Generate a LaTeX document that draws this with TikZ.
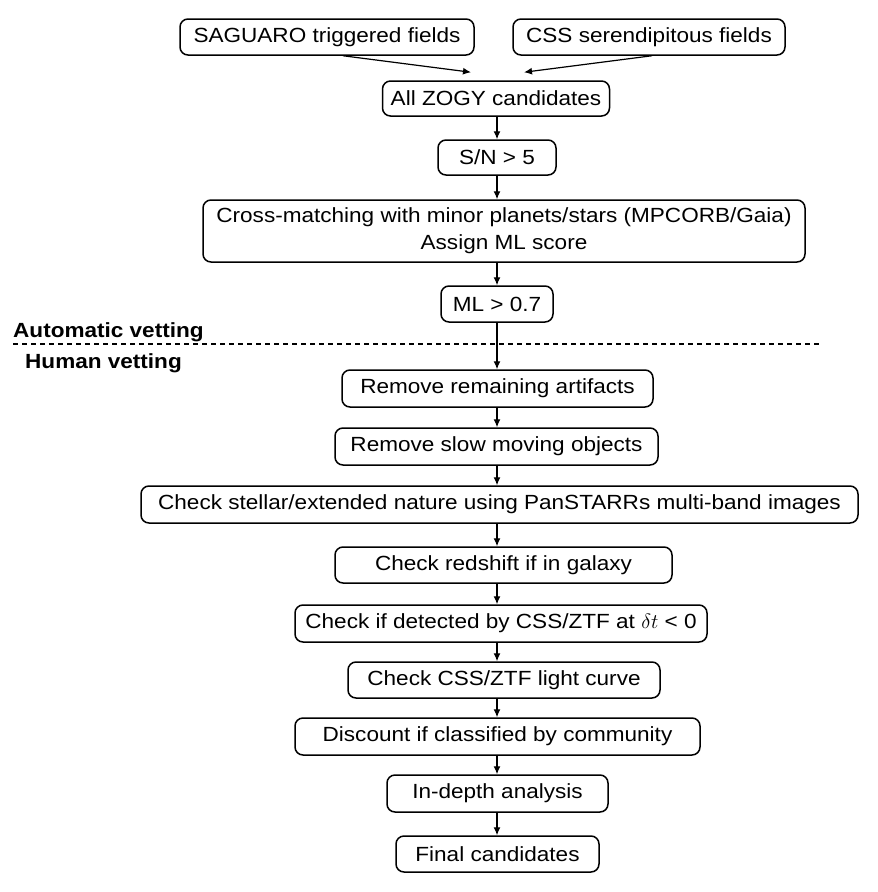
\documentclass[tikz,border=0pt]{standalone}
\usepackage{fontspec}
\setmainfont{Liberation Sans}[FakeStretch=1.1]
\usetikzlibrary{arrows.meta}
\begin{document}
\begin{tikzpicture}[x=1pt,y=-1pt,
  box/.style={draw, line width=1.5pt, rounded corners=8pt, inner sep=0pt,
    minimum height=36pt, align=center, font=\fontsize{20.5}{27}\selectfont},
  arr/.style={-{Latex[length=8pt,width=7pt]}, line width=1.2pt},
  lab/.style={anchor=base west, inner sep=0pt, font=\bfseries\fontsize{20.5}{24}\selectfont},
  sepline/.style={line width=2.2pt, dash pattern=on 5pt off 4pt}]
\useasboundingbox (0,0) rectangle (878,892);
\coordinate (spine) at (497,0);

\node[box, minimum width=294pt] (sag) at (327,37) {SAGUARO triggered fields};
\node[box, minimum width=272pt] (css) at (649,37) {CSS serendipitous fields};
\node[box, minimum width=227pt, minimum height=35pt] (zogy) at (496,98.5) {All ZOGY candidates};
\node[box, minimum width=118pt, minimum height=35pt] (sn) at (497,157.5) {S/N > 5};
\node[box, minimum width=602pt, minimum height=62pt] (cross) at (504,231)
  {Cross-matching with minor planets/stars (MPCORB/Gaia)\\Assign ML score};
\node[box, minimum width=112pt] (ml) at (497,304) {ML > 0.7};

\node[lab] (auto) at (13,337) {Automatic vetting};
\node[lab] (human) at (25,368) {Human vetting};
\coordinate (dl) at (13,344);
\coordinate (dr) at (820,344);
\draw[sepline] (dl) -- (dr);

\node[box, minimum width=311pt, minimum height=37pt] (rra) at (497.5,388.5) {Remove remaining artifacts};
\node[box, minimum width=323pt, minimum height=37pt] (rso) at (496.5,446.5) {Remove slow moving objects};
\node[box, minimum width=717pt, minimum height=37pt] (chk) at (499.5,504.5) {Check stellar/extended nature using PanSTARRs multi-band images};
\node[box, minimum width=337pt] (red) at (503.5,565) {Check redshift if in galaxy};
\node[box, minimum width=412pt, minimum height=37pt] (det) at (501,623.5) {Check if detected by CSS/ZTF at $\delta t$ < 0};
\node[box, minimum width=312pt] (lc) at (504,680) {Check CSS/ZTF light curve};
\node[box, minimum width=405pt, minimum height=37pt] (disc) at (497.5,736.5) {Discount if classified by community};
\node[box, minimum width=221pt, minimum height=37pt] (deep) at (497.5,793.5) {In-depth analysis};
\node[box, minimum width=203pt] (final) at (497.5,854) {Final candidates};

\draw[arr] ([xshift=16pt]sag.south) -- ([xshift=-25pt,yshift=8pt]zogy.north);
\draw[arr] ([xshift=3pt]css.south) -- ([xshift=28pt,yshift=8pt]zogy.north);
\draw[arr] (zogy.south -| spine) -- (sn.north -| spine);
\draw[arr] (sn.south -| spine) -- (cross.north -| spine);
\draw[arr] (cross.south -| spine) -- (ml.north -| spine);
\draw[arr] (ml.south -| spine) -- (rra.north -| spine);
\draw[arr] (rra.south -| spine) -- (rso.north -| spine);
\draw[arr] (rso.south -| spine) -- (chk.north -| spine);
\draw[arr] (chk.south -| spine) -- (red.north -| spine);
\draw[arr] (red.south -| spine) -- (det.north -| spine);
\draw[arr] (det.south -| spine) -- (lc.north -| spine);
\draw[arr] (lc.south -| spine) -- (disc.north -| spine);
\draw[arr] (disc.south -| spine) -- (deep.north -| spine);
\draw[arr] (deep.south -| spine) -- (final.north -| spine);
\end{tikzpicture}
\end{document}
